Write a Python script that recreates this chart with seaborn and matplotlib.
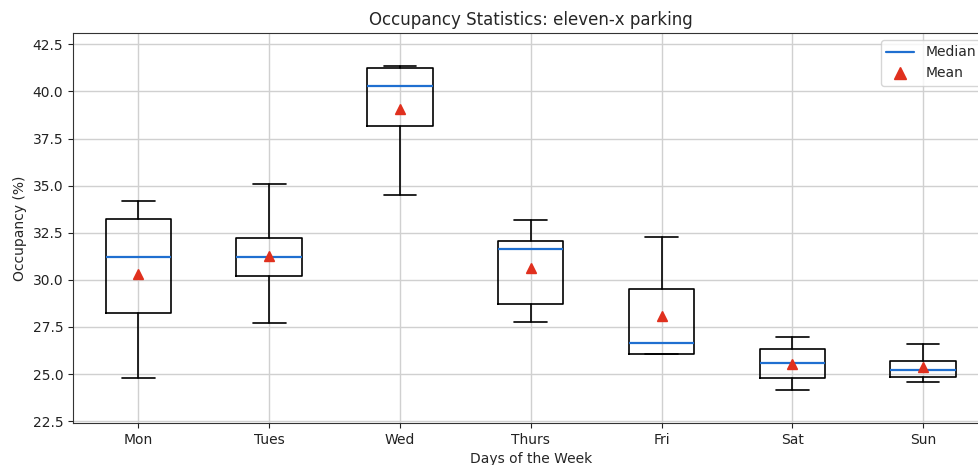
import matplotlib
matplotlib.use("Agg")
import matplotlib.pyplot as plt
from matplotlib.lines import Line2D
import seaborn as sns

# values (occupancy %)
days = ["Mon", "Tues", "Wed", "Thurs", "Fri", "Sat", "Sun"]
whisker_low = [24.78, 27.71, 34.51, 27.78, 26.05, 24.14, 24.56]
q1 = [28.24, 30.22, 38.19, 28.70, 26.07, 24.78, 24.82]
median = [31.23, 31.23, 40.29, 31.65, 26.63, 25.61, 25.19]
q3 = [33.21, 32.20, 41.24, 32.05, 29.53, 26.32, 25.69]
whisker_high = [34.20, 35.10, 41.35, 33.16, 32.26, 26.94, 26.61]
mean = [30.33, 31.28, 39.07, 30.64, 28.10, 25.52, 25.38]

median_color = "#1f6fd0"
mean_color = "#e0301e"

sns.set_style("ticks")
plt.rcParams['font.family'] = ['DejaVu Sans']

fig = plt.figure(figsize=(9.79, 4.65), dpi=100)
# the reference is cropped on the right, so the axes run past the figure edge
ax = fig.add_axes([73 / 979, 1 - 423 / 465, 915.5 / 979, 390 / 465])

stats = []
for i, day in enumerate(days):
    stats.append({
        "label": day,
        "whislo": whisker_low[i],
        "q1": q1[i],
        "med": median[i],
        "q3": q3[i],
        "whishi": whisker_high[i],
        "mean": mean[i],
        "fliers": [],
    })

ax.bxp(stats, showmeans=True, widths=0.5,
       boxprops=dict(color="black", linewidth=1.2),
       whiskerprops=dict(color="black", linewidth=1.2),
       capprops=dict(color="black", linewidth=1.2),
       medianprops=dict(color=median_color, linewidth=1.6),
       meanprops=dict(marker="^", markerfacecolor=mean_color, markeredgecolor=mean_color,
                      markersize=7))

ax.set_ylim(22.4, 43.1)
ax.set_yticks([22.5, 25.0, 27.5, 30.0, 32.5, 35.0, 37.5, 40.0, 42.5])
ax.grid(True, color="#d0d0d0", linewidth=1)
ax.set_axisbelow(True)
for spine in ax.spines.values():
    spine.set_color("#333333")

ax.tick_params(labelsize=10, colors="#222222")
ax.set_title("Occupancy Statistics: eleven-x parking", fontsize=12)
ax.set_xlabel("Days of the Week", fontsize=10)
ax.set_ylabel("Occupancy (%)", fontsize=10)

handles = [
    Line2D([0], [0], color=median_color, linewidth=1.6, label="Median"),
    Line2D([0], [0], color=mean_color, marker="^", linestyle="None", markersize=8, label="Mean"),
]
ax.legend(handles=handles, loc="upper right", fontsize=10, framealpha=0.8)

fig.savefig("out.png", dpi=100)
